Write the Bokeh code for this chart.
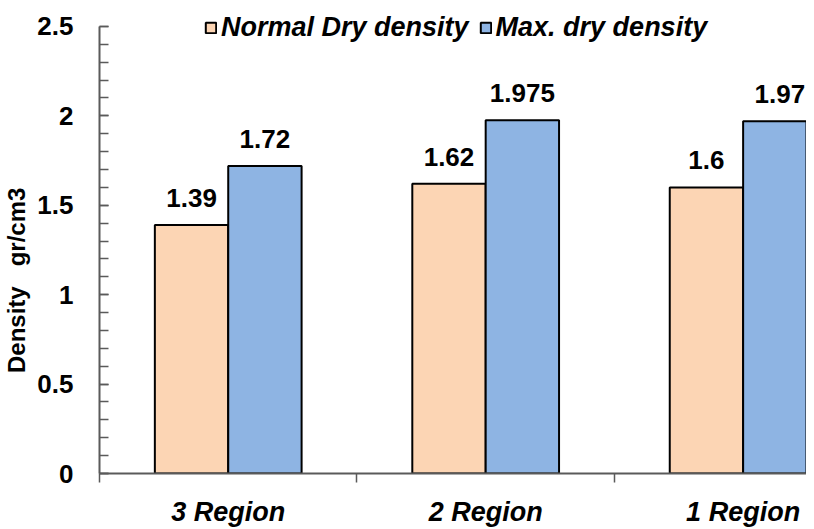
from bokeh.plotting import figure
from bokeh.models import (Range1d, FixedTicker, Legend, LegendItem, ColumnDataSource)
from bokeh.core.properties import value
from bokeh.embed import file_html
from bokeh.resources import INLINE

# ---- data ----
categories = ["3 Region", "2 Region", "1 Region"]
normal_dry = [1.39, 1.62, 1.6]
max_dry = [1.72, 1.975, 1.97]
series_names = ["Normal Dry density", "Max. dry density"]
y_ticks = [0, 0.5, 1, 1.5, 2, 2.5]
y_tick_labels = ["0", "0.5", "1", "1.5", "2", "2.5"]
Y_MAX = 2.5

ORANGE = "#FCD5B4"
BLUE = "#8EB4E3"
AXIS = "#5a5a5a"
FONT = "Liberation Sans"

BAR_W = 0.285
centers = [i + 0.5 for i in range(len(categories))]
x_norm = [c - BAR_W / 2 for c in centers]
x_max = [c + BAR_W / 2 for c in centers]

src_n = ColumnDataSource(dict(x=x_norm, top=normal_dry, lab=[f"{v:g}" for v in normal_dry]))
src_m = ColumnDataSource(dict(x=x_max, top=max_dry, lab=[f"{v:g}" for v in max_dry]))

# frame spans 474 px; the 2.5 tick sits 26 px below the frame top (room for the legend)
p = figure(width=806, height=529, output_backend="svg", toolbar_location=None,
           x_range=Range1d(0, 714 / 260), y_range=Range1d(0, Y_MAX * 474 / 448),
           min_border_left=92, min_border_right=0, min_border_top=0, min_border_bottom=55)
p.outline_line_color = None
p.xgrid.grid_line_color = None
p.ygrid.grid_line_color = None
p.background_fill_color = "white"
p.border_fill_color = "white"

r1 = p.vbar(x="x", top="top", width=BAR_W, source=src_n, fill_color=ORANGE,
            line_color="black", line_width=2)
r2 = p.vbar(x="x", top="top", width=BAR_W, source=src_m, fill_color=BLUE,
            line_color="black", line_width=2)

for src in (src_n, src_m):
    p.text(x="x", y="top", text="lab", source=src, text_align="center",
           text_baseline="alphabetic", y_offset=-27,
           text_font=value(FONT), text_font_style="bold", text_font_size="26px",
           text_color="black")

# x axis
xa = p.xaxis[0]
xa.ticker = FixedTicker(ticks=centers, minor_ticks=list(range(len(categories) + 1)))
xa.major_label_overrides = {c: lab for c, lab in zip(centers, categories)}
xa.major_tick_in = 0
xa.major_tick_out = 0
xa.minor_tick_in = 0
xa.minor_tick_out = 9
xa.minor_tick_line_color = AXIS
xa.minor_tick_line_width = 1.5
xa.axis_line_color = AXIS
xa.axis_line_width = 2
xa.major_label_text_font = FONT
xa.major_label_text_font_style = "bold italic"
xa.major_label_text_font_size = "27px"
xa.major_label_text_color = "black"
xa.major_label_standoff = 14

# y axis
ya = p.yaxis[0]
ya.bounds = (0, Y_MAX)
ya.ticker = FixedTicker(ticks=y_ticks, minor_ticks=[round(i * 0.1, 1) for i in range(26)])
ya.major_label_overrides = {t: l for t, l in zip(y_ticks, y_tick_labels)}
ya.major_tick_in = 9
ya.major_tick_out = 0
ya.minor_tick_in = 9
ya.minor_tick_out = 0
ya.major_tick_line_color = AXIS
ya.minor_tick_line_color = AXIS
ya.major_tick_line_width = 1.5
ya.minor_tick_line_width = 1.5
ya.axis_line_color = AXIS
ya.axis_line_width = 2
ya.major_label_text_font = FONT
ya.major_label_text_font_style = "bold"
ya.major_label_text_font_size = "26px"
ya.major_label_text_color = "black"
ya.major_label_standoff = 26
ya.axis_label = "Density\u00a0\u00a0\u00a0gr/cm3" + "\u00a0" * 13
ya.axis_label_text_font = FONT
ya.axis_label_text_font_style = "bold"
ya.axis_label_text_font_size = "24px"
ya.axis_label_text_color = "black"
ya.axis_label_standoff = 4

legend = Legend(items=[LegendItem(label=series_names[0], renderers=[r1]),
                       LegendItem(label=series_names[1], renderers=[r2])],
                orientation="horizontal", location=(105, 430),
                glyph_width=13, glyph_height=13, label_standoff=4, spacing=10,
                padding=0, margin=0, border_line_alpha=0, background_fill_alpha=0,
                label_text_font=FONT, label_text_font_style="bold italic",
                label_text_font_size="27px", label_text_color="black")
p.add_layout(legend)

open("out.html", "w").write(file_html(p, INLINE))
